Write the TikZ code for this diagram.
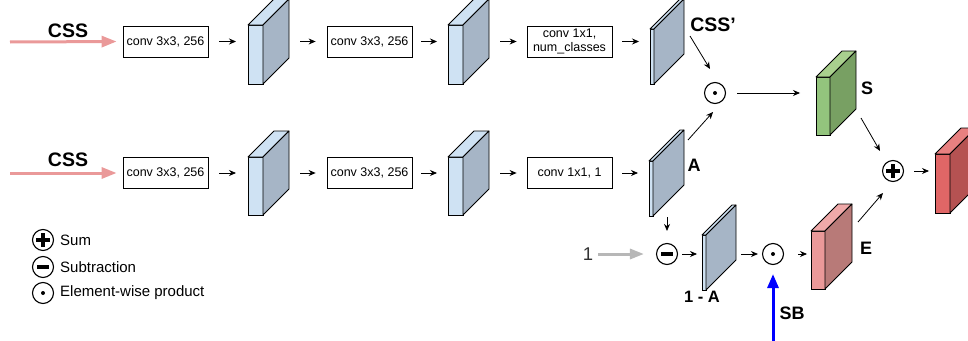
\documentclass[tikz,border=0pt]{standalone}
\usepackage{fontspec}
\setmainfont{Liberation Sans}
\usetikzlibrary{arrows.meta}
\definecolor{bfront}{HTML}{CFE2F3}
\definecolor{bside}{HTML}{A6B5C6}
\definecolor{gfront}{HTML}{93C47D}
\definecolor{gtop}{HTML}{A9D08E}
\definecolor{gside}{HTML}{78A063}
\definecolor{pfront}{HTML}{EA9999}
\definecolor{ptop}{HTML}{EFA9A9}
\definecolor{pside}{HTML}{B87A78}
\definecolor{rfront}{HTML}{E06666}
\definecolor{rtop}{HTML}{E88080}
\definecolor{rside}{HTML}{B55252}
\definecolor{pinkarrow}{HTML}{EA9999}
\definecolor{grayarrow}{HTML}{B7B7B7}
\definecolor{inblue}{HTML}{0000FF}
\newcommand\layer[9]{%
  \node[draw, line width=0.8pt, fill=#7, minimum width=#4pt, minimum height=#5pt, inner sep=0pt, outer sep=0pt] (#1) at (#2,#3) {};
  \draw[line width=0.8pt, fill=#8, line join=round] (#1.north west) -- ++(#6,-#6) -- ++(#4,0) -- (#1.north east) -- cycle;
  \draw[line width=0.8pt, fill=#9, line join=round] (#1.north east) -- ++(#6,-#6) -- ++(0,#5) -- (#1.south east) -- cycle;
}
\newcommand\opdot[3]{\node[opc] (#1) at (#2,#3) {}; \fill (#1.center) circle (2pt);}
\newcommand\opplus[3]{\node[opc] (#1) at (#2,#3) {};
  \fill[shift={(#1.center)}] (-7,-2.3) rectangle (7,2.3);
  \fill[shift={(#1.center)}] (-2.3,-7) rectangle (2.3,7);}
\newcommand\opminus[3]{\node[opc] (#1) at (#2,#3) {};
  \fill[shift={(#1.center)}] (-6.3,-1.8) rectangle (6.3,1.8);}
\begin{document}
\begin{tikzpicture}[x=1pt,y=-1pt,
  convbox/.style={draw, line width=0.8pt, minimum width=85pt, minimum height=31pt, inner sep=1pt, align=center, font=\fontsize{12.5}{14}\selectfont},
  arr/.style={-{Stealth[length=7pt,width=6pt]}, line width=0.8pt},
  pinkin/.style={pinkarrow, line width=3pt, -{Triangle[length=15pt,width=11pt]}},
  grayin/.style={grayarrow, line width=3pt, -{Triangle[length=14pt,width=10pt]}},
  bluein/.style={inblue, line width=3pt, -{Triangle[length=14pt,width=11pt]}},
  bigl/.style={font=\bfseries\fontsize{19.5}{21}\selectfont, inner sep=0pt},
  lab/.style={font=\bfseries\fontsize{18}{20}\selectfont, inner sep=0pt},
  opc/.style={circle, draw, line width=1.1pt, minimum size=21pt, inner sep=0pt},
  legt/.style={font=\fontsize{15}{17}\selectfont, inner sep=0pt, anchor=west}]
\clip (0,0) rectangle (968,340);
% ---- top row
\coordinate (in1) at (10,42);
\node[bigl] (css1) at (68,31) {CSS};
\node[convbox] (b1) at (165.5,41.5) {conv 3x3, 256};
\layer{l1}{255.5}{54.5}{15}{59}{26}{bfront}{bfront}{bside}
\node[convbox] (b2) at (369.5,41.5) {conv 3x3, 256};
\layer{l2}{455.5}{54.5}{15}{59}{26}{bfront}{bfront}{bside}
\node[convbox, font=\fontsize{12.5}{13.5}\selectfont] (b3) at (569.5,41.5) {conv 1x1,\\num\_classes};
\layer{cssp}{652}{56.5}{4}{55}{30}{bfront}{bfront}{bside}
\draw[pinkin, shorten >=6pt] (in1) -- (b1.west);
\draw[arr, shorten <=11pt, shorten >=12pt] (b1.east) -- (b1.east -| l1.west);
\draw[arr, shorten <=37pt, shorten >=11pt] (l1.east |- b2.west) -- (b2.west);
\draw[arr, shorten <=9pt, shorten >=11pt] (b2.east) -- (b2.east -| l2.west);
\draw[arr, shorten <=37pt, shorten >=10pt] (l2.east |- b3.west) -- (b3.west);
\draw[arr, shorten <=10pt, shorten >=11pt] (b3.east) -- (b3.east -| cssp.west);
\node[bigl] (lcssp) at (713,25) {CSS’};
% ---- bottom row
\coordinate (in2) at (10,173);
\node[bigl] (css2) at (68,160) {CSS};
\node[convbox] (b4) at (165.5,173) {conv 3x3, 256};
\layer{l3}{255.5}{186}{15}{58}{26}{bfront}{bfront}{bside}
\node[convbox] (b5) at (369.5,173) {conv 3x3, 256};
\layer{l4}{455.5}{186}{15}{58}{26}{bfront}{bfront}{bside}
\node[convbox] (b6) at (569.5,173) {conv 1x1, 1};
\layer{la}{651}{188.5}{4}{55}{31}{bfront}{bfront}{bside}
\draw[pinkin, shorten >=6pt] (in2) -- (b4.west);
\draw[arr, shorten <=11pt, shorten >=12pt] (b4.east) -- (b4.east -| l3.west);
\draw[arr, shorten <=37pt, shorten >=11pt] (l3.east |- b5.west) -- (b5.west);
\draw[arr, shorten <=9pt, shorten >=11pt] (b5.east) -- (b5.east -| l4.west);
\draw[arr, shorten <=37pt, shorten >=10pt] (l4.east |- b6.west) -- (b6.west);
\draw[arr, shorten <=10pt, shorten >=11pt] (b6.east) -- (b6.east -| la.west);
\node[lab] (lA) at (694,165) {A};
% ---- products
\opdot{m1}{715}{93}
\coordinate (c1) at (690,36); \coordinate (c2) at (710,69);
\draw[arr] (c1) -- (c2);
\coordinate (c3) at (688,140); \coordinate (c4) at (713,112);
\draw[arr] (c3) -- (c4);
\layer{S}{823}{106}{14}{58}{26}{gfront}{gtop}{gside}
\node[lab] (lS) at (867,88) {S};
\draw[arr, shorten <=11pt, shorten >=16pt] (m1.east) -- (m1.east -| S.west);
\opplus{pl}{893}{171}
\coordinate (c5) at (861,118); \coordinate (c6) at (880,151);
\draw[arr] (c5) -- (c6);
\layer{out}{942.5}{183.5}{15}{59}{26}{rfront}{rtop}{rside}
\draw[arr, shorten <=10pt, shorten >=6pt] (pl.east) -- (pl.east -| out.west);
% ---- lower branch
\opminus{mi}{667}{254}
\coordinate (c7) at (667,217);
\draw[arr, shorten >=12pt] (c7) -- (mi);
\node[font=\fontsize{18.5}{20}\selectfont, text=black!80, inner sep=0pt] (one) at (588,254) {1};
\draw[grayin, shorten <=5pt, shorten >=12pt] (one.east) -- (mi.west);
\layer{oma}{704}{262.5}{4}{55}{30}{bfront}{bfront}{bside}
\node[lab, font=\bfseries\fontsize{16.5}{18}\selectfont] (lOmA) at (702,297) {1 - A};
\draw[arr, shorten <=4pt, shorten >=5pt] (mi.east) -- (mi.east -| oma.west);
\opdot{m2}{773}{254}
\draw[arr, shorten <=35pt, shorten >=4pt] (oma.east |- m2.west) -- (m2.west);
\coordinate (sbin) at (773,342);
\draw[bluein, shorten >=9pt] (sbin) -- (m2.south);
\node[lab] (lSB) at (792,313) {SB};
\layer{E}{818}{260}{14}{58}{27}{pfront}{ptop}{pside}
\node[lab] (lE) at (866,248) {E};
\draw[arr, shorten <=14pt, shorten >=4pt] (m2.east) -- (m2.east -| E.west);
\coordinate (c8) at (858,222); \coordinate (c9) at (883,193);
\draw[arr] (c8) -- (c9);
% ---- legend
\opplus{g1}{43}{240}
\node[legt] (t1) at (60,240) {Sum};
\opminus{g2}{43}{267}
\node[legt] (t2) at (60,267) {Subtraction};
\opdot{g3}{43}{293}
\node[legt] (t3) at (60,293) {Element-wise product};
\end{tikzpicture}
\end{document}
